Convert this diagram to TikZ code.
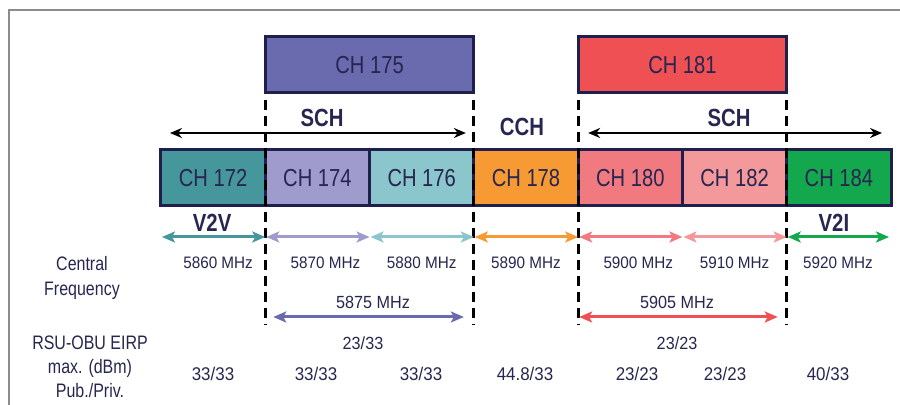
\documentclass[tikz,border=0pt]{standalone}
\usepackage{fontspec}
\setmainfont{Liberation Sans}
\newfontfamily\narrowfont{Liberation Sans}[FakeStretch=0.82]
\newfontfamily\semifont{Liberation Sans}[FakeStretch=0.92]
\usepackage{tikz}
\usetikzlibrary{arrows.meta,positioning,calc}
\definecolor{inkblue}{HTML}{262650}
\definecolor{edgeblue}{HTML}{1F1F4D}
\definecolor{frameg}{HTML}{8C8C8C}
\definecolor{chteal}{HTML}{46979C}
\definecolor{chlav}{HTML}{9F9BCC}
\definecolor{chaqua}{HTML}{8AC6CC}
\definecolor{chorange}{HTML}{F79A33}
\definecolor{chsalmon}{HTML}{F07A80}
\definecolor{chpink}{HTML}{F4999B}
\definecolor{chgreen}{HTML}{13A84E}
\definecolor{chpurple}{HTML}{6A6AAF}
\definecolor{chred}{HTML}{EF5053}

\begin{document}
\begin{tikzpicture}[x=0.5pt, y=-0.5pt,
  every node/.style={font=\semifont\fontsize{8.3}{12}\selectfont, text=inkblue, align=center},
  chbox/.style={draw=edgeblue, line width=1.5pt, outer sep=0pt, minimum width=52.15pt, minimum height=28pt, font=\narrowfont\fontsize{12.3}{14}\selectfont},
  tag/.style={font=\narrowfont\bfseries\fontsize{12.4}{14}\selectfont},
  rowlabel/.style={font=\narrowfont\fontsize{9.75}{12.3}\selectfont},
  wideval/.style={font=\semifont\fontsize{8.8}{12}\selectfont},
  powval/.style={font=\semifont\fontsize{9.2}{12}\selectfont},
  chdash/.style={line width=1.5pt, dash pattern=on 5pt off 3pt},
  span/.style={<->, line width=1pt, >={Stealth[length=6pt,width=5pt]}},
  band/.style={<->, line width=1.5pt, >={Stealth[length=6.5pt,width=5.5pt,inset=1.5pt]}}]
  \useasboundingbox (0,0) rectangle (900,405);
  \draw[frameg, line width=1pt] (9,405) -- (9,10) -- (900,10);
  % channel row
  \node[chbox, fill=chteal] (ch172) at (213.1,178) {CH 172};
  \node[chbox, fill=chlav, right=0pt of ch172] (ch174) {CH 174};
  \node[chbox, fill=chaqua, right=0pt of ch174] (ch176) {CH 176};
  \node[chbox, fill=chorange, right=0pt of ch176] (ch178) {CH 178};
  \node[chbox, fill=chsalmon, right=0pt of ch178] (ch180) {CH 180};
  \node[chbox, fill=chpink, right=0pt of ch180] (ch182) {CH 182};
  \node[chbox, fill=chgreen, right=0pt of ch182] (ch184) {CH 184};
  % 20 MHz channels
  \node[chbox, fill=chpurple, minimum width=104.3pt, above=28.5pt of ch174.north east] (ch175) {CH 175};
  \node[chbox, fill=chred, minimum width=104.3pt, above=28.5pt of ch180.north east] (ch181) {CH 181};
  \draw[chdash] ([yshift=-3.5pt]ch175.south west) -- ++(0,225);
  \draw[chdash] ([yshift=-3.5pt]ch175.south east) -- ++(0,225);
  \draw[chdash] ([yshift=-3.5pt]ch181.south west) -- ++(0,225);
  \draw[chdash] ([yshift=-3.5pt]ch181.south east) -- ++(0,225);
  % service / control channels
  \draw[span] ($(ch172.north west)+(9,-17)$) -- ($(ch176.north east)+(-8,-17)$);
  \draw[span] ($(ch180.north west)+(10,-17)$) -- ($(ch184.north east)+(-9,-17)$);
  \node[tag] (schl) at (322,118) {SCH};
  \node[tag] (cch) at (522,127) {CCH};
  \node[tag] (schr) at (729,118) {SCH};
  \node[tag] (v2v) at ($(ch172.south)+(-1,17)$) {V2V};
  \node[tag] (v2i) at ($(ch184.south)+(-5,17)$) {V2I};
  % 10 MHz bands
  \draw[band, chteal] ($(ch172.south west)+(1,31)$) -- ($(ch172.south east)+(0,31)$);
  \draw[band, chlav] ($(ch174.south west)+(1,31)$) -- ($(ch174.south east)+(0,31)$);
  \draw[band, chaqua] ($(ch176.south west)+(1,31)$) -- ($(ch176.south east)+(0,31)$);
  \draw[band, chorange] ($(ch178.south west)+(1,31)$) -- ($(ch178.south east)+(0,31)$);
  \draw[band, chsalmon] ($(ch180.south west)+(1,31)$) -- ($(ch180.south east)+(0,31)$);
  \draw[band, chpink] ($(ch182.south west)+(1,31)$) -- ($(ch182.south east)+(0,31)$);
  \draw[band, chgreen] ($(ch184.south west)+(1,31)$) -- ($(ch184.south east)+(-2,31)$);
  \node (f172) at ($(ch172.south)+(5,57)$) {5860 MHz};
  \node (f174) at ($(ch174.south)+(8,57)$) {5870 MHz};
  \node (f176) at ($(ch176.south)+(0,57)$) {5880 MHz};
  \node (f178) at ($(ch178.south)+(0,57)$) {5890 MHz};
  \node (f180) at ($(ch180.south)+(8,57)$) {5900 MHz};
  \node (f182) at ($(ch182.south)+(0,57)$) {5910 MHz};
  \node (f184) at ($(ch184.south)+(-1,57)$) {5920 MHz};
  % 20 MHz bands
  \draw[band, chpurple] ($(ch174.south west)+(8,111)$) -- ($(ch176.south east)+(-10,111)$);
  \draw[band, chred] ($(ch180.south west)+(1,111)$) -- ($(ch182.south east)+(-9,111)$);
  \node[wideval] (f175) at (373,302) {5875 MHz};
  \node[wideval] (f181) at (677,302) {5905 MHz};
  \node[wideval] (p175) at (363,343) {23/33};
  \node[wideval] (p181) at (677,343) {23/23};
  % row labels
  \node[rowlabel] (cfreq) at (82,278) {Central\\Frequency};
  \node[rowlabel, font=\narrowfont\fontsize{9.75}{12}\selectfont] (eirp) at (90,367) {RSU-OBU EIRP\\max. (dBm)\\Pub./Priv.};
  % power per channel
  \node[powval] (p172) at (213,374) {33/33};
  \node[powval] (p174) at (316,374) {33/33};
  \node[powval] (p176) at (421,374) {33/33};
  \node[powval] (p178) at (525,374) {44.8/33};
  \node[powval] (p180) at (637,374) {23/23};
  \node[powval] (p182) at (725,374) {23/23};
  \node[powval] (p184) at (828,374) {40/33};
\end{tikzpicture}
\end{document}
